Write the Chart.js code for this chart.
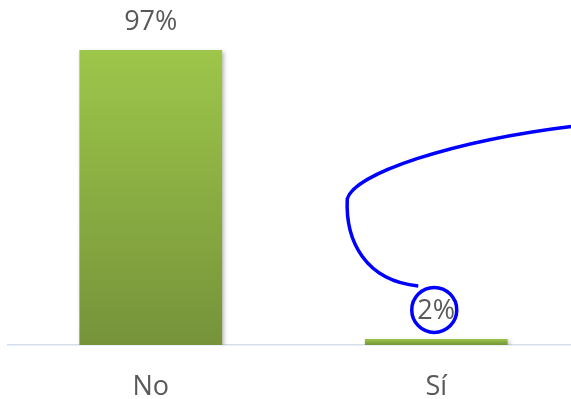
<!DOCTYPE html>
<html>
<head>
<meta charset="utf-8">
<script src="https://cdn.jsdelivr.net/npm/chart.js@4/dist/chart.umd.min.js"></script>
<style>
  html, body { margin: 0; padding: 0; background: #fff; overflow: hidden; }
  #wrap { width: 579px; height: 399px; position: relative; }
</style>
</head>
<body>
<div id="wrap"><canvas id="c"></canvas></div>
<script>
const categories = ["No", "Sí"];
const values = [97, 2];
const valueLabels = ["97%", "2%"];

const labelPlugin = {
  id: 'valueLabels',
  afterDatasetsDraw(chart) {
    const ctx = chart.ctx;
    const meta = chart.getDatasetMeta(0);
    ctx.save();
    ctx.font = '27px "Open Sans", sans-serif';
    ctx.fillStyle = '#595959';
    ctx.textAlign = 'center';
    ctx.textBaseline = 'middle';
    meta.data.forEach((bar, i) => {
      ctx.fillText(valueLabels[i], bar.x, bar.y - 28);
    });
    ctx.restore();
  }
};

const annotationPlugin = {
  id: 'annot',
  afterDraw(chart) {
    const ctx = chart.ctx;
    const bar = chart.getDatasetMeta(0).data[1];
    const cx = bar.x - 2, cy = bar.y - 29;
    ctx.save();
    ctx.strokeStyle = '#0000FF';
    ctx.lineWidth = 3.5;
    ctx.beginPath();
    ctx.arc(cx, cy, 22.5, 0, Math.PI * 2);
    ctx.stroke();
    ctx.beginPath();
    ctx.lineCap = 'butt';
    const sx = cx - 16, sy = cy - 24;
    ctx.moveTo(sx, sy);
    ctx.bezierCurveTo(sx - 53, sy - 5, sx - 73, sy - 45, sx - 71, sy - 87);
    ctx.bezierCurveTo(sx - 64, sy - 112, sx + 32, sy - 145, sx + 157, sy - 160);
    ctx.stroke();
    ctx.restore();
  }
};

const shadowPlugin = {
  id: 'barShadow',
  beforeDatasetsDraw(chart) {
    const ctx = chart.ctx;
    ctx.save();
    ctx.shadowColor = 'rgba(0,0,0,0.28)';
    ctx.shadowBlur = 4;
    ctx.shadowOffsetX = 2;
    ctx.shadowOffsetY = 2;
  },
  afterDatasetsDraw(chart) {
    chart.ctx.restore();
  }
};

new Chart(document.getElementById('c'), {
  type: 'bar',
  data: {
    labels: categories,
    datasets: [{
      data: values,
      backgroundColor: (c) => {
        const chart = c.chart;
        if (!chart.chartArea || c.raw === undefined) return '#8DB045';
        const y = chart.scales.y.getPixelForValue(c.raw);
        const b = chart.scales.y.getPixelForValue(0);
        const g = chart.ctx.createLinearGradient(0, y, 0, b);
        g.addColorStop(0, '#9DC64A');
        g.addColorStop(1, '#76933A');
        return g;
      },
      borderWidth: 0,
      categoryPercentage: 1,
      barPercentage: 0.5
    }]
  },
  options: {
    responsive: true,
    maintainAspectRatio: false,
    animation: false,
    devicePixelRatio: 1,
    layout: { padding: { left: 8, right: 0, top: 41, bottom: 0 } },
    plugins: { legend: { display: false }, tooltip: { enabled: false } },
    scales: {
      x: {
        grid: { display: false, drawTicks: false },
        border: { display: true, color: '#D5DFEE', width: 1.5 },
        ticks: { color: '#595959', font: { family: '"Open Sans", sans-serif', size: 27 }, padding: 26 },
        afterFit: (s) => { s.height = 54; }
      },
      y: {
        display: false,
        min: 0,
        max: 100
      }
    }
  },
  plugins: [shadowPlugin, labelPlugin, annotationPlugin]
});
</script>
</body>
</html>
